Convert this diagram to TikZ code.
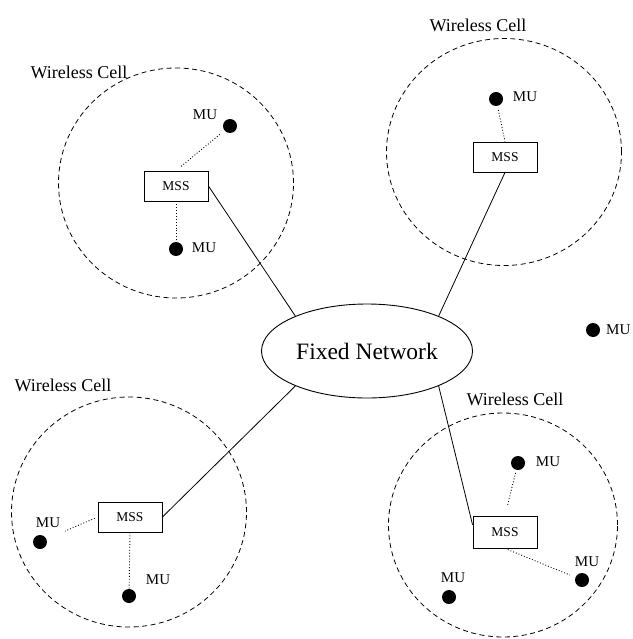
\documentclass[tikz,border=0pt]{standalone}
\usepackage{fontspec}
\setmainfont{Liberation Serif}
\usetikzlibrary{shapes.geometric,calc}
\begin{document}
\begin{tikzpicture}[x=1pt,y=-1pt,
  cell/.style={ellipse,draw,dash pattern=on 5pt off 3.5pt,line width=0.8pt,inner sep=0pt},
  mss/.style={draw,line width=0.9pt,minimum width=64pt,minimum height=30pt,inner sep=0pt,font=\fontsize{13.5}{14}\selectfont},
  mu/.style={circle,fill=black,minimum size=14pt,inner sep=0pt},
  mulab/.style={font=\fontsize{15}{16}\selectfont,inner sep=0pt},
  celllab/.style={font=\fontsize{18}{19}\selectfont,inner sep=0pt},
  link/.style={line width=0.8pt},
  radio/.style={dotted,line width=0.9pt}]
\useasboundingbox (0,0) rectangle (632,639);
% cells
\node[cell,minimum width=235pt,minimum height=230pt] (c1) at (176,183) {};
\node[cell,minimum width=235pt,minimum height=227pt] (c2) at (504,152) {};
\node[cell,minimum width=235pt,minimum height=230pt] (c3) at (129,512) {};
\node[cell,minimum width=229pt,minimum height=224pt] (c4) at (503,525) {};
% cell labels
\node[celllab] (l1) at (79,72) {Wireless Cell};
\node[celllab] (l2) at (478,25) {Wireless Cell};
\node[celllab] (l3) at (63,385) {Wireless Cell};
\node[celllab] (l4) at (515,399) {Wireless Cell};
% fixed network
\node[ellipse,draw,line width=0.9pt,minimum width=211pt,minimum height=94pt,inner sep=0pt,font=\fontsize{23.5}{24}\selectfont] (net) at (367,351) {Fixed Network};
% MSS boxes
\node[mss] (m1) at (176,186) {MSS};
\node[mss] (m2) at (505,157) {MSS};
\node[mss] (m3) at (130,517) {MSS};
\node[mss,minimum height=32pt] (m4) at (505,532) {MSS};
% mobile units
\node[mu] (u1a) at (230,126) {};
\node[mu] (u1b) at (176,249) {};
\node[mu] (u2a) at (496,99) {};
\node[mu] (u3a) at (40,542) {};
\node[mu] (u3b) at (129,596) {};
\node[mu] (u4a) at (518,463) {};
\node[mu] (u4b) at (582,580) {};
\node[mu] (u4c) at (449,597) {};
\node[mu] (u5) at (593,330) {};
% MU labels
\node[mulab] (t1a) at (205,115) {MU};
\node[mulab] (t1b) at (204,248) {MU};
\node[mulab] (t2a) at (525,97) {MU};
\node[mulab] (t3a) at (48,523) {MU};
\node[mulab] (t3b) at (158,580) {MU};
\node[mulab] (t4a) at (548,462) {MU};
\node[mulab] (t4b) at (587,562) {MU};
\node[mulab] (t4c) at (453,578) {MU};
\node[mulab,anchor=west] (t5) at (606,330) {MU};
% wired links
\draw[link] (m1.east) -- (net.154);
\draw[link] (m2.south) -- (net.26);
\draw[link] (m3.east) -- (net.-154);
\draw[link] ($(m4.north west)!0.28!(m4.south west)$) -- (net.-26);
% radio links
\draw[radio,shorten <=6pt,shorten >=6pt] (u1a) -- (m1.north);
\draw[radio] (m1.south) -- (u1b);
\draw[radio,shorten <=4pt] (u2a) -- (m2.north);
\draw[radio,shorten <=3pt,shorten >=20pt] (m3.west) -- (u3a);
\draw[radio] (m3.south) -- (u3b);
\draw[radio,shorten <=3pt,shorten >=10pt] (u4a) -- (m4.north);
\draw[radio,shorten <=3pt,shorten >=6pt] (m4.south) -- (u4b);
\end{tikzpicture}
\end{document}
